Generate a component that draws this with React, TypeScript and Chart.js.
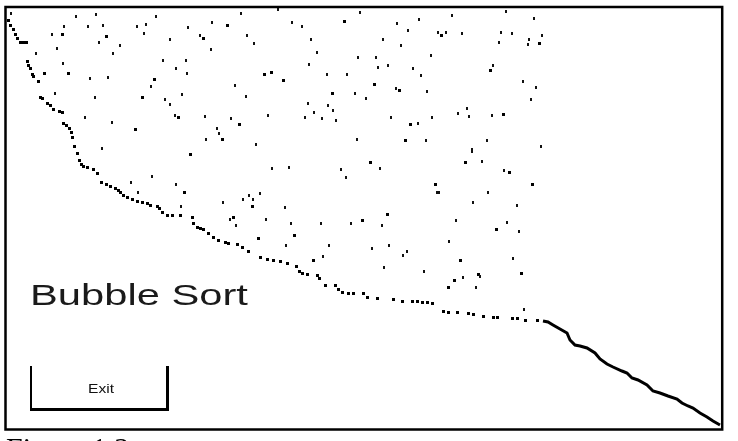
import React, { useEffect, useRef } from "react";
import { Chart, registerables } from "chart.js";

Chart.register(...registerables);

// element index (x) vs element value (y) during a bubble sort pass
const thinMarks: [number, number][] = [
  [6, 417], [71, 414], [91, 416], [151, 414], [236, 417], [59, 404], [83, 404], [98, 405],
  [132, 404], [141, 406], [207, 408], [47, 396], [94, 388], [115, 385], [139, 397], [165, 391],
  [183, 403], [195, 395], [242, 395], [52, 382], [108, 377], [206, 381], [31, 377], [58, 367],
  [158, 370], [181, 370], [171, 362], [182, 357], [85, 352], [103, 353], [146, 344], [230, 345],
  [50, 337], [90, 333], [160, 331], [177, 336], [165, 326], [241, 334], [170, 315], [80, 313],
  [107, 308], [200, 314], [226, 312], [212, 302], [214, 297], [201, 291], [97, 282],
  [273, 421], [355, 418], [501, 419], [287, 408], [297, 404], [392, 407], [414, 411], [447, 415],
  [529, 412], [249, 387], [306, 391], [378, 391], [403, 400], [433, 398], [441, 398], [457, 397],
  [496, 398], [507, 397], [494, 388], [524, 391], [523, 386], [537, 395], [312, 378], [396, 385],
  [426, 375], [353, 373], [371, 373], [304, 366], [373, 363], [383, 365], [408, 362], [488, 365],
  [322, 356], [342, 356], [416, 355], [518, 349], [531, 343], [391, 342], [422, 339], [350, 337],
  [361, 332], [526, 331], [303, 327], [323, 325], [328, 320], [309, 318], [263, 315], [300, 313],
  [317, 312], [331, 310], [386, 313], [427, 313], [453, 317], [462, 322], [464, 314], [487, 315],
  [413, 307], [251, 286], [352, 291], [421, 290], [482, 290], [467, 281], [536, 284],
  [147, 254], [126, 248], [133, 238], [171, 246], [176, 224], [218, 228], [225, 211], [231, 205],
  [238, 231], [244, 235], [248, 231], [255, 237], [267, 262], [284, 263], [261, 211], [280, 223],
  [286, 207], [281, 185], [318, 174], [324, 185], [316, 207], [336, 261], [341, 253], [375, 262],
  [346, 207], [377, 205], [367, 182], [384, 185], [379, 163],
  [477, 269], [467, 279], [499, 260], [432, 238], [434, 238], [483, 238], [468, 228], [512, 225],
  [451, 210], [502, 208], [514, 199], [444, 189], [508, 172], [398, 175], [402, 179], [419, 159],
  [475, 154], [458, 153], [471, 143], [519, 121],
];

const boldMarks: [number, number][] = [
  [222, 405], [57, 396], [101, 394], [198, 392], [39, 357], [63, 357], [149, 351], [137, 333],
  [173, 313], [234, 306], [130, 301], [217, 291],
  [339, 409], [436, 395], [534, 387], [485, 360], [259, 356], [266, 358], [278, 350], [369, 346],
  [394, 340], [327, 337], [498, 316], [405, 306], [400, 290],
  [185, 276], [179, 238], [228, 213], [247, 224], [253, 192], [289, 195], [308, 170], [365, 268],
  [357, 210], [382, 216],
  [460, 268], [504, 258], [430, 246], [527, 246], [491, 201], [455, 170], [473, 156], [449, 150],
  [443, 143], [516, 157],
];

const unsortedFloor: [number, number][] = [
  [3, 410], [5, 405], [8, 401], [10, 396], [12, 392], [15, 388], [18, 388], [21, 388], [22, 369],
  [23, 365], [25, 362], [27, 356], [28, 354], [33, 349], [35, 333], [37, 332], [42, 327], [45, 325],
  [48, 321], [54, 319], [57, 318], [58, 307], [61, 305], [64, 302], [66, 298], [67, 293], [69, 284],
  [72, 277], [74, 270], [76, 266], [78, 264], [82, 263], [88, 261], [92, 257], [96, 248], [101, 246],
  [105, 244], [110, 242], [113, 240], [115, 238], [118, 235], [122, 233], [127, 231], [132, 229],
  [137, 228], [142, 227], [145, 225], [152, 224], [154, 222], [157, 218], [162, 215], [167, 215],
  [175, 215], [187, 213], [188, 207], [192, 203], [195, 202], [198, 201], [203, 197], [208, 193],
  [213, 190], [220, 188], [223, 187], [232, 186], [237, 183], [243, 179], [255, 173], [262, 171],
  [268, 170], [275, 169], [282, 167], [291, 164], [294, 159], [297, 157], [302, 156], [312, 155],
  [314, 152], [320, 145], [330, 145], [333, 141], [337, 138], [343, 137], [348, 137], [358, 137],
  [362, 133], [372, 132], [388, 131], [397, 129], [407, 129], [412, 129], [417, 128], [422, 128],
  [427, 127], [438, 119], [443, 118], [452, 118], [463, 117], [468, 116], [478, 114], [488, 113],
  [492, 113], [507, 112], [512, 112], [520, 110], [532, 110],
];

const sortedTail: [number, number][] = [
  [538, 109], [543, 108], [548, 105], [555, 101], [562, 97], [565, 90], [570, 85], [575, 84],
  [582, 82], [590, 77], [595, 71], [602, 66], [608, 63], [617, 59], [622, 57], [627, 52],
  [633, 50], [642, 45], [648, 39], [655, 37], [663, 34], [672, 31], [677, 27], [683, 24],
  [688, 22], [695, 17], [702, 13], [708, 9], [715, 5],
];

const indexRange = [0, 717];
const valueRange = [0, 423];

function markImage(w: number, h: number, color: string) {
  const c = document.createElement("canvas");
  c.width = w;
  c.height = h;
  const g = c.getContext("2d")!;
  g.fillStyle = color;
  g.fillRect(0, 0, w, h);
  return c;
}

const framePlugin = {
  id: "frame",
  afterDraw(chart: any) {
    const { ctx, chartArea } = chart;
    ctx.save();
    ctx.strokeStyle = "#000";
    ctx.lineWidth = 2.5;
    ctx.strokeRect(
      chartArea.left + 0.5,
      chartArea.top,
      chartArea.right - chartArea.left - 0.3,
      chartArea.bottom - chartArea.top - 0.5
    );
    ctx.restore();
  },
};

export default function App() {
  const ref = useRef<HTMLCanvasElement | null>(null);

  useEffect(() => {
    if (!ref.current) return;
    const toXY = (arr: [number, number][]) => arr.map(([x, y]) => ({ x, y }));
    const thin = markImage(2, 3, "#111");
    const bold = markImage(3, 3, "#000");
    const floor = markImage(3, 3, "#000");
    const chart = new Chart(ref.current, {
      type: "scatter",
      data: {
        datasets: [
          {
            type: "line",
            data: toXY(sortedTail),
            borderColor: "#000",
            borderWidth: 3,
            pointRadius: 0,
            tension: 0,
          } as any,
          {
            data: toXY(unsortedFloor),
            pointStyle: floor,
            pointRadius: 2,
          } as any,
          {
            data: toXY(thinMarks),
            pointStyle: thin,
            pointRadius: 2,
          } as any,
          {
            data: toXY(boldMarks),
            pointStyle: bold,
            pointRadius: 2,
          } as any,
        ],
      },
      options: {
        animation: false,
        responsive: false,
        devicePixelRatio: 1,
        events: [],
        layout: { padding: { left: 5, right: 16, top: 7, bottom: 11 } },
        plugins: { legend: { display: false }, tooltip: { enabled: false } },
        scales: {
          x: { type: "linear", min: indexRange[0], max: indexRange[1], display: false },
          y: { type: "linear", min: valueRange[0], max: valueRange[1], display: false },
        },
      },
      plugins: [framePlugin],
    });
    return () => chart.destroy();
  }, []);

  return (
    <div
      style={{
        position: "absolute",
        left: 0,
        top: 0,
        width: 738,
        height: 441,
        overflow: "hidden",
        background: "#fff",
      }}
    >
      <canvas
        ref={ref}
        width={738}
        height={441}
        style={{ position: "absolute", left: 0, top: 0, width: 738, height: 441 }}
      />
      <div
        style={{
          position: "absolute",
          left: 30,
          top: 280,
          fontFamily: "'Liberation Sans', Arial, sans-serif",
          fontSize: 30,
          lineHeight: 1,
          color: "#1a1a1a",
          whiteSpace: "nowrap",
          transform: "scaleX(1.39)",
          transformOrigin: "left top",
        }}
      >
        Bubble Sort
      </div>
      <div
        style={{
          position: "absolute",
          left: 30,
          top: 366,
          width: 139,
          height: 45,
          boxSizing: "border-box",
          borderLeft: "2px solid #000",
          borderRight: "3px solid #000",
          borderBottom: "3px solid #000",
        }}
      />
      <div
        style={{
          position: "absolute",
          left: 88,
          top: 382,
          fontFamily: "'Liberation Sans', Arial, sans-serif",
          fontSize: 13,
          lineHeight: 1,
          color: "#111",
          whiteSpace: "nowrap",
          transform: "scaleX(1.2)",
          transformOrigin: "left top",
        }}
      >
        Exit
      </div>
      <div
        style={{
          position: "absolute",
          left: 6,
          top: 432.5,
          fontFamily: "'Liberation Serif', 'Times New Roman', serif",
          fontSize: 30,
          lineHeight: 1,
          color: "#000",
          whiteSpace: "nowrap",
        }}
      >
        Figure 1.2
      </div>
    </div>
  );
}
